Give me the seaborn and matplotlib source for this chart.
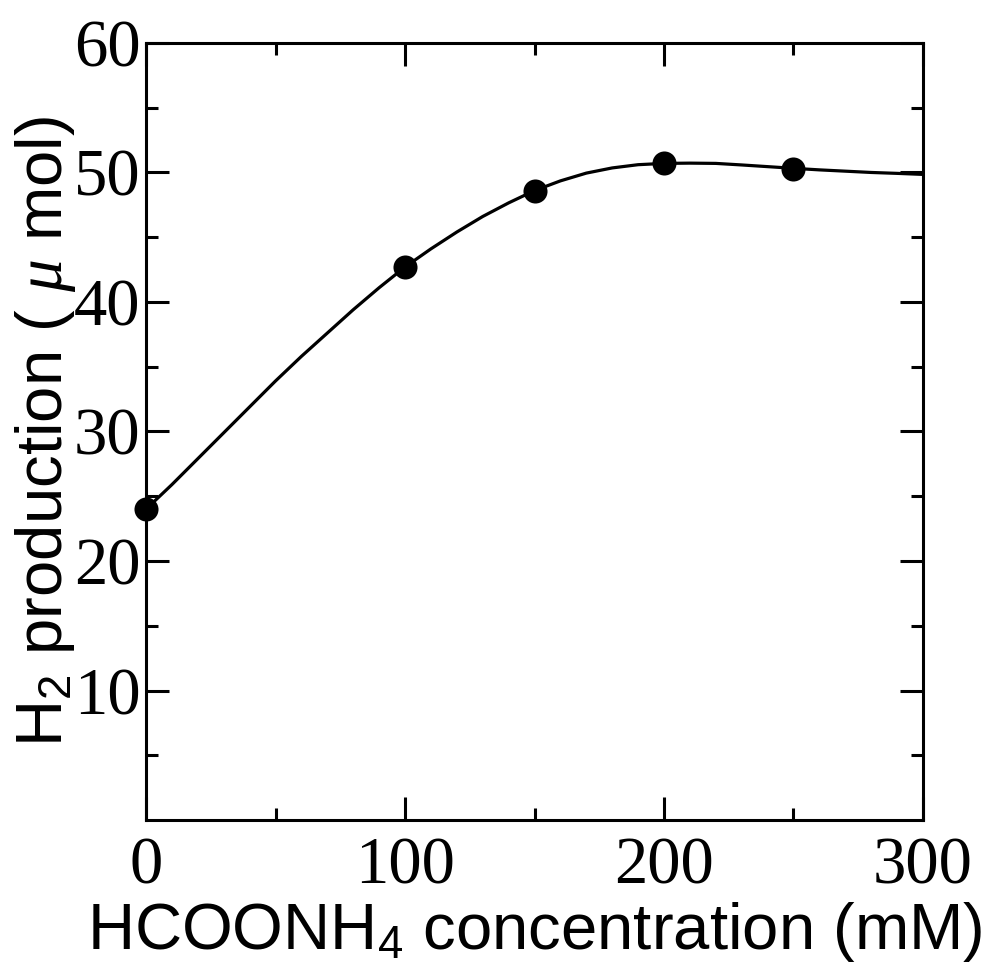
import matplotlib
matplotlib.use("Agg")
import matplotlib.pyplot as plt
import seaborn as sns
import pandas as pd

# measured points
conc = [0, 100, 150, 200, 250]
h2 = [24.0, 42.7, 48.6, 50.7, 50.3]

# fitted curve
curve_x = [0, 10, 20, 30, 40, 50, 60, 70, 80, 90, 100, 110, 120, 130, 140, 150,
           160, 170, 180, 190, 200, 210, 220, 230, 240, 250, 260, 270, 280, 290, 300]
curve_y = [24.0, 25.9, 27.9, 29.9, 31.9, 33.9, 35.8, 37.6, 39.4, 41.1, 42.7, 44.1,
           45.4, 46.6, 47.65, 48.6, 49.35, 49.95, 50.35, 50.6, 50.7, 50.72, 50.7, 50.58,
           50.45, 50.32, 50.2, 50.1, 50.0, 49.93, 49.85]

x_ticks = [0, 100, 200, 300]
x_minor = [50, 150, 250]
y_ticks = [10, 20, 30, 40, 50, 60]
y_minor = [5, 15, 25, 35, 45, 55]

sns.set_theme(style="ticks")
plt.rcParams['font.family'] = ['Liberation Sans', 'DejaVu Sans']
plt.rcParams['mathtext.fontset'] = 'custom'
plt.rcParams['mathtext.rm'] = 'Liberation Sans'
plt.rcParams['mathtext.it'] = 'Liberation Serif:italic'
plt.rcParams['mathtext.bf'] = 'Liberation Sans:bold'

fig = plt.figure(figsize=(9.9, 9.74), dpi=100)
ax = fig.add_axes([0.1475, 0.1581, 0.9323 - 0.1475, 0.9559 - 0.1581])

df_curve = pd.DataFrame({"x": curve_x, "y": curve_y})
df_pts = pd.DataFrame({"x": conc, "y": h2})

sns.lineplot(data=df_curve, x="x", y="y", ax=ax, color="black", linewidth=2.3,
             sort=True, estimator=None)
sns.scatterplot(data=df_pts, x="x", y="y", ax=ax, color="black", s=300,
                edgecolor="black", linewidth=0, zorder=5, clip_on=False)

ax.set_xlim(0, 300)
ax.set_ylim(0, 60)
ax.set_xticks(x_ticks)
ax.set_xticks(x_minor, minor=True)
ax.set_yticks(y_ticks)
ax.set_yticks(y_minor, minor=True)
ax.set_xticklabels([str(v) for v in x_ticks])
ax.set_yticklabels([str(v) for v in y_ticks])

for s in ax.spines.values():
    s.set_visible(True)
    s.set_linewidth(2.2)
    s.set_color("black")

ax.tick_params(which="major", direction="in", length=16.5, width=2.2,
               top=True, right=True, color="black")
ax.tick_params(which="minor", direction="in", length=8.5, width=2.2,
               top=True, right=True, color="black")
ax.tick_params(axis="y", which="major", pad=4)
ax.tick_params(axis="x", which="major", pad=12)
for lab in ax.get_xticklabels() + ax.get_yticklabels():
    lab.set_fontfamily("Liberation Serif")
    lab.set_fontsize(48)
    lab.set_color("black")

ax.set_xlabel(r"HCOONH$_4$ concentration (mM)", fontsize=47, color="black", labelpad=2)
ax.set_ylabel(r"H$_2$ production ( $\mu$ mol)", fontsize=47, color="black", labelpad=-3)

ax.set_facecolor("white")
fig.patch.set_facecolor("white")
fig.savefig("out.png", dpi=100)
